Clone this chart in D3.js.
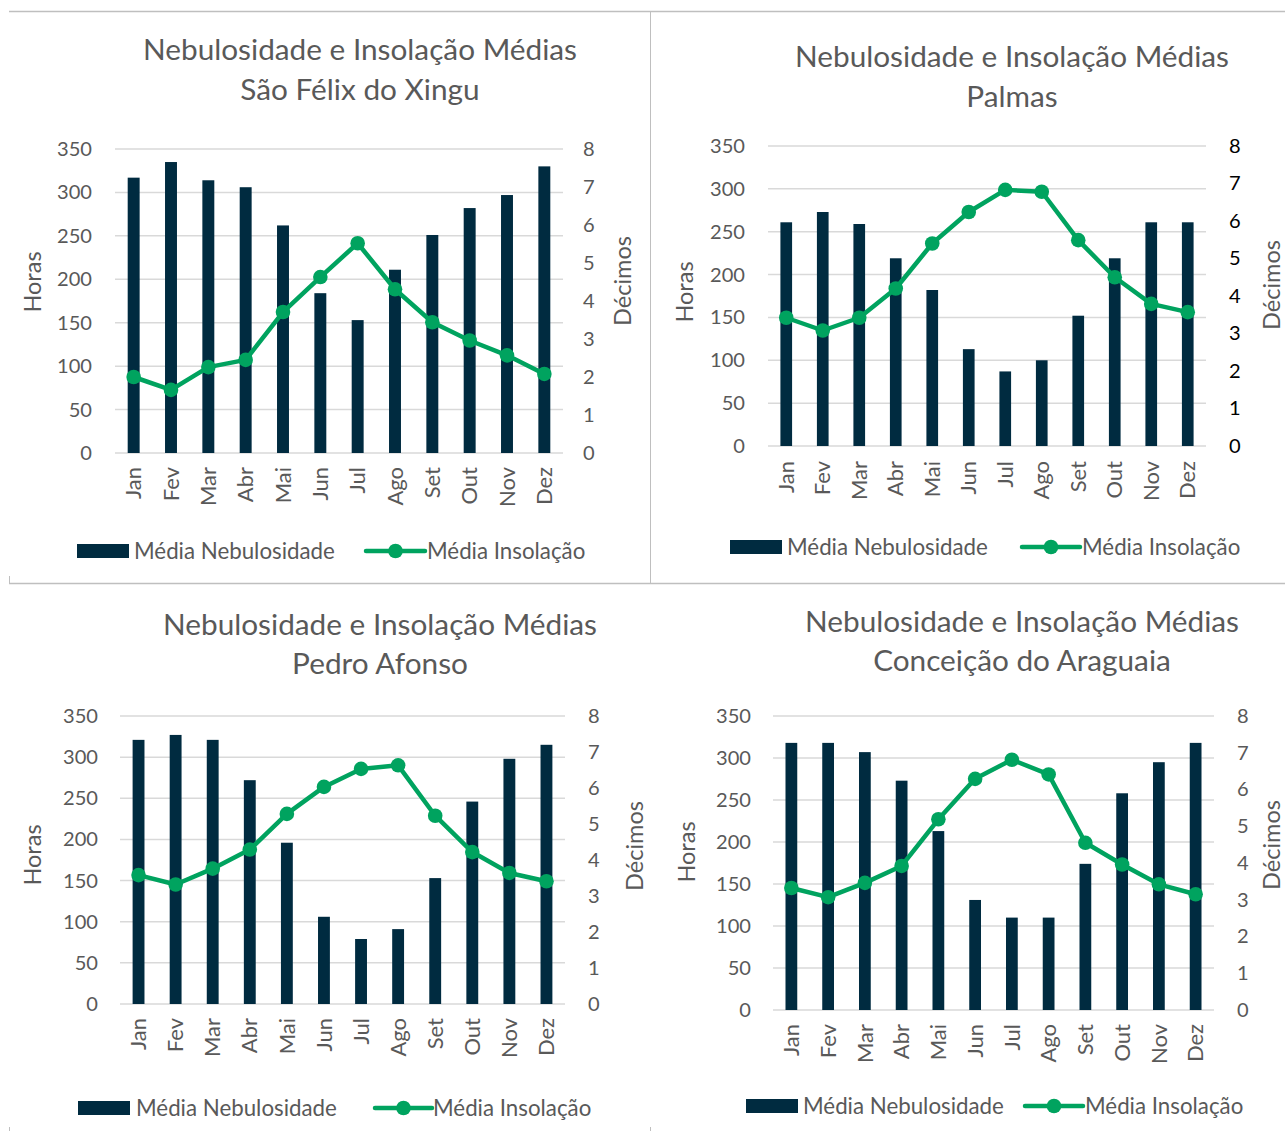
<!DOCTYPE html>
<html>
<head>
<meta charset="utf-8">
<script src="https://cdn.jsdelivr.net/npm/d3@7"></script>
<style>
  html, body { margin: 0; padding: 0; background: #fff; }
  svg { display: block; }
  text { font-family: Lato, "Open Sans", sans-serif; }
</style>
</head>
<body>
<svg id="chart" width="1285" height="1131"></svg>
<script>
// ---------------- DATA ----------------
const months = ["Jan", "Fev", "Mar", "Abr", "Mai", "Jun", "Jul", "Ago", "Set", "Out", "Nov", "Dez"];
const titleMain = "Nebulosidade e Insolação Médias";
const cities = ["São Félix do Xingu", "Palmas", "Pedro Afonso", "Conceição do Araguaia"];
const seriesNames = ["Média Nebulosidade", "Média Insolação"];
const leftTicks = [0, 50, 100, 150, 200, 250, 300, 350];
const rightTicks = [0, 1, 2, 3, 4, 5, 6, 7, 8];
const leftAxisTitle = "Horas";
const rightAxisTitle = "Décimos";

const nebSaoFelix   = [317, 335, 314, 306, 262, 184, 153, 211, 251, 282, 297, 330];
const insSaoFelix   = [2.00, 1.66, 2.26, 2.45, 3.71, 4.63, 5.52, 4.31, 3.44, 2.96, 2.57, 2.08];

const nebPalmas     = [261, 273, 259, 219, 182, 113, 87, 100, 152, 219, 261, 261];
const insPalmas     = [3.42, 3.08, 3.42, 4.20, 5.40, 6.24, 6.83, 6.78, 5.49, 4.50, 3.79, 3.57];

const nebPedroAfonso = [321, 327, 321, 272, 196, 106, 79, 91, 153, 246, 298, 315];
const insPedroAfonso = [3.58, 3.32, 3.76, 4.29, 5.28, 6.03, 6.53, 6.63, 5.23, 4.22, 3.64, 3.41];

const nebConceicao  = [318, 318, 307, 273, 213, 131, 110, 110, 174, 258, 295, 318];
const insConceicao  = [3.32, 3.07, 3.46, 3.92, 5.19, 6.29, 6.81, 6.41, 4.55, 3.96, 3.42, 3.15];

// ---------------- LAYOUT ----------------
const layouts = [
  { x0: 115, x1: 563, yTop: 149, yBot: 453, leftLblX: 92, rightLblX: 583, rightColor: "#595959",
    horasX: 33, horasY: 282, decX: 623, decY: 281, titleX: 360, titleY1: 50, titleY2: 90,
    xLblY: 467, legY: 551, legRectX: 77, legText1X: 134, legLineX0: 366, legLineX1: 425, legText2X: 427 },
  { x0: 768, x1: 1206, yTop: 146, yBot: 446, leftLblX: 745, rightLblX: 1229, rightColor: "#000000",
    horasX: 685, horasY: 292, decX: 1272, decY: 285, titleX: 1012, titleY1: 57, titleY2: 97,
    xLblY: 461, legY: 547, legRectX: 730, legText1X: 787, legLineX0: 1022, legLineX1: 1080, legText2X: 1082 },
  { x0: 120, x1: 565, yTop: 716, yBot: 1004, leftLblX: 98, rightLblX: 588, rightColor: "#595959",
    horasX: 33, horasY: 855, decX: 635, decY: 846, titleX: 380, titleY1: 625, titleY2: 664,
    xLblY: 1018, legY: 1108, legRectX: 78, legText1X: 136, legLineX0: 375, legLineX1: 432, legText2X: 433 },
  { x0: 773, x1: 1214, yTop: 716, yBot: 1010, leftLblX: 751, rightLblX: 1237, rightColor: "#595959",
    horasX: 687, horasY: 852, decX: 1272, decY: 845, titleX: 1022, titleY1: 622, titleY2: 661,
    xLblY: 1024, legY: 1106, legRectX: 746, legText1X: 803, legLineX0: 1025, legLineX1: 1083, legText2X: 1085 }
];

const charts = [
  { city: cities[0], neb: nebSaoFelix,    ins: insSaoFelix },
  { city: cities[1], neb: nebPalmas,      ins: insPalmas },
  { city: cities[2], neb: nebPedroAfonso, ins: insPedroAfonso },
  { city: cities[3], neb: nebConceicao,   ins: insConceicao }
];

const BAR = "#002B40";
const GREEN = "#00A35F";
const GREY = "#595959";
const GRID = "#D9D9D9";
const BORDER = "#BFBFBF";

const svg = d3.select("#chart");

// ---- font fitting helper (measure text to match target widths) ----
function fitSize(str, target, base = 20) {
  const t = svg.append("text").attr("font-size", base).text(str);
  const w = t.node().getComputedTextLength();
  t.remove();
  return base * target / w;
}
const titleSize = fitSize(titleMain, 434);
const legendSize = fitSize(seriesNames[0], 201);
const tickSize = fitSize("350", 35);
const xLblSize = fitSize("Mar", 39);
const axisTitleSize = fitSize(rightAxisTitle, 90);

// ---- panel borders ----
const borders = svg.append("g").attr("stroke", BORDER).attr("fill", "none");
borders.append("line").attr("x1", 9).attr("x2", 1285).attr("y1", 11.5).attr("y2", 11.5).attr("stroke-width", 1.3);
borders.append("line").attr("x1", 9).attr("x2", 1285).attr("y1", 583.5).attr("y2", 583.5).attr("stroke-width", 1.3);
borders.append("line").attr("x1", 650.5).attr("x2", 650.5).attr("y1", 11).attr("y2", 583).attr("stroke-width", 1);
borders.append("line").attr("x1", 9.5).attr("x2", 9.5).attr("y1", 576).attr("y2", 583).attr("stroke-width", 1);
borders.append("line").attr("x1", 9.5).attr("x2", 9.5).attr("y1", 1127).attr("y2", 1131).attr("stroke-width", 1);
borders.append("line").attr("x1", 650.5).attr("x2", 650.5).attr("y1", 1127).attr("y2", 1131).attr("stroke-width", 1);

charts.forEach((c, i) => {
  const L = layouts[i];
  const g = svg.append("g");

  const x = d3.scaleBand().domain(months).range([L.x0, L.x1]).paddingInner(0.68).paddingOuter(0.34);
  const yL = d3.scaleLinear().domain([0, 350]).range([L.yBot, L.yTop]);
  const yR = d3.scaleLinear().domain([0, 8]).range([L.yBot, L.yTop]);

  // gridlines
  g.append("g").selectAll("line").data(leftTicks).join("line")
    .attr("x1", L.x0).attr("x2", L.x1)
    .attr("y1", d => yL(d)).attr("y2", d => yL(d))
    .attr("stroke", GRID).attr("stroke-width", 1.5);

  // left axis
  const la = g.append("g").attr("transform", `translate(${L.leftLblX},0)`)
    .call(d3.axisLeft(yL).tickValues(leftTicks).tickSize(0).tickPadding(0));
  la.select(".domain").remove();
  la.selectAll("text").attr("font-size", tickSize).attr("fill", GREY).attr("font-family", "Lato");

  // right axis
  const ra = g.append("g").attr("transform", `translate(${L.rightLblX},0)`)
    .call(d3.axisRight(yR).tickValues(rightTicks).tickSize(0).tickPadding(0));
  ra.select(".domain").remove();
  ra.selectAll("text").attr("font-size", tickSize).attr("fill", L.rightColor).attr("font-family", "Lato");

  // bottom axis labels (rotated)
  const ba = g.append("g").attr("transform", `translate(0,${L.xLblY})`)
    .call(d3.axisBottom(x).tickSize(0).tickPadding(0));
  ba.select(".domain").remove();
  ba.selectAll("text")
    .attr("font-size", xLblSize).attr("fill", GREY).attr("font-family", "Lato")
    .attr("transform", "rotate(-90)")
    .attr("text-anchor", "end")
    .attr("x", 0).attr("y", 0).attr("dy", "0.35em");

  // bars
  g.append("g").selectAll("rect").data(c.neb).join("rect")
    .attr("x", (d, j) => x(months[j]))
    .attr("width", x.bandwidth())
    .attr("y", d => yL(d))
    .attr("height", d => yL(0) - yL(d))
    .attr("fill", BAR);

  // line
  const line = d3.line().x((d, j) => x(months[j]) + x.bandwidth() / 2).y(d => yR(d));
  g.append("path").datum(c.ins).attr("d", line)
    .attr("fill", "none").attr("stroke", GREEN).attr("stroke-width", 4.5)
    .attr("stroke-linejoin", "round").attr("stroke-linecap", "round");
  g.append("g").selectAll("circle").data(c.ins).join("circle")
    .attr("cx", (d, j) => x(months[j]) + x.bandwidth() / 2)
    .attr("cy", d => yR(d))
    .attr("r", 7.3).attr("fill", GREEN);

  // title
  g.append("text").attr("x", L.titleX).attr("y", L.titleY1).attr("dy", "0.35em")
    .attr("text-anchor", "middle").attr("font-size", titleSize).attr("fill", GREY).text(titleMain);
  g.append("text").attr("x", L.titleX).attr("y", L.titleY2).attr("dy", "0.35em")
    .attr("text-anchor", "middle").attr("font-size", titleSize).attr("fill", GREY).text(c.city);

  // axis titles
  g.append("text").attr("transform", `translate(${L.horasX},${L.horasY}) rotate(-90)`)
    .attr("text-anchor", "middle").attr("dy", "0.35em")
    .attr("font-size", axisTitleSize).attr("fill", GREY).text(leftAxisTitle);
  g.append("text").attr("transform", `translate(${L.decX},${L.decY}) rotate(-90)`)
    .attr("text-anchor", "middle").attr("dy", "0.35em")
    .attr("font-size", axisTitleSize).attr("fill", GREY).text(rightAxisTitle);

  // legend
  g.append("rect").attr("x", L.legRectX).attr("y", L.legY - 7).attr("width", 52).attr("height", 14).attr("fill", BAR);
  g.append("text").attr("x", L.legText1X).attr("y", L.legY).attr("dy", "0.35em")
    .attr("font-size", legendSize).attr("fill", GREY).text(seriesNames[0]);
  g.append("line").attr("x1", L.legLineX0).attr("x2", L.legLineX1).attr("y1", L.legY).attr("y2", L.legY)
    .attr("stroke", GREEN).attr("stroke-width", 4.5).attr("stroke-linecap", "round");
  g.append("circle").attr("cx", (L.legLineX0 + L.legLineX1) / 2).attr("cy", L.legY).attr("r", 7.3).attr("fill", GREEN);
  g.append("text").attr("x", L.legText2X).attr("y", L.legY).attr("dy", "0.35em")
    .attr("font-size", legendSize).attr("fill", GREY).text(seriesNames[1]);
});
</script>
</body>
</html>
